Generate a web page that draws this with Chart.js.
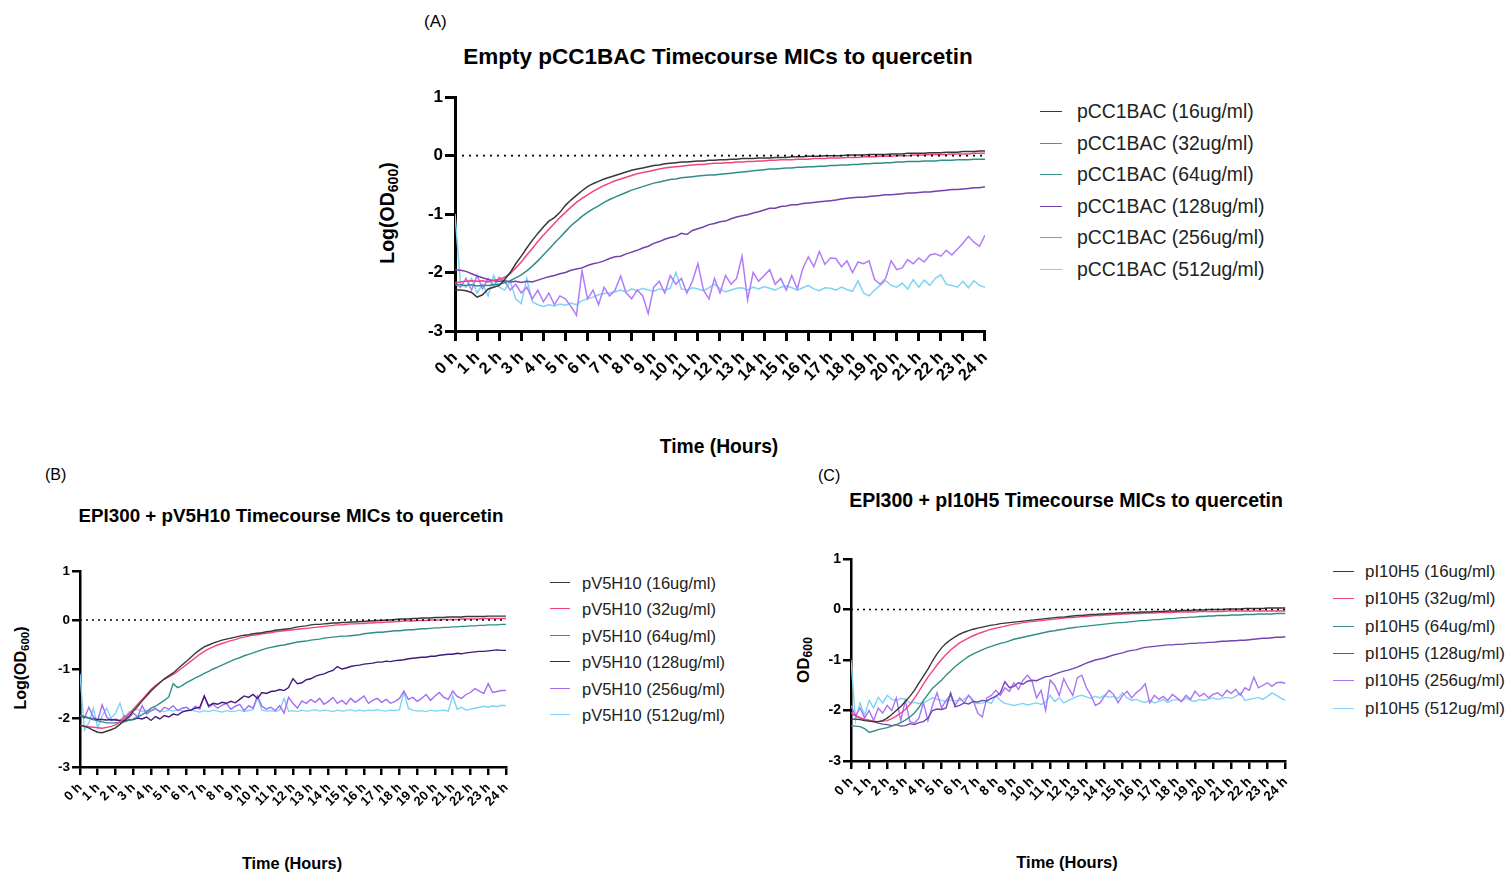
<!DOCTYPE html>
<html><head><meta charset="utf-8">
<script src="https://cdn.jsdelivr.net/npm/chart.js@4.4.1/dist/chart.umd.min.js"></script>
<style>
body{margin:0;width:1510px;height:873px;background:#fff;position:relative;overflow:hidden;font-family:"Liberation Sans",Arial,sans-serif;color:#000}
.t{position:absolute;white-space:nowrap;transform:translate(-50%,-50%);line-height:1}
.l{position:absolute;white-space:nowrap;transform:translateY(-50%);line-height:1}
.b{font-weight:bold}
.r{transform:translate(-50%,-50%) rotate(-90deg)}
sub{font-size:0.72em;vertical-align:-0.25em}
canvas{position:absolute}
.lgline{position:absolute;height:0;border-top-style:solid}
</style></head><body>

<div class="l" style="left:424px;top:21px;font-size:17px">(A)</div>
<div class="t b" style="left:718px;top:57px;font-size:22.5px">Empty pCC1BAC Timecourse MICs to quercetin</div>
<div class="t b r" style="left:389px;top:213px;font-size:19.5px">Log(OD<sub>600</sub>)</div>
<div class="t b" style="left:719px;top:447px;font-size:19.3px">Time (Hours)</div>

<div class="l" style="left:45px;top:475px;font-size:16px">(B)</div>
<div class="t b" style="left:291px;top:516px;font-size:18.8px">EPI300 + pV5H10 Timecourse MICs to quercetin</div>
<div class="t b r" style="left:22px;top:668px;font-size:16px">Log(OD<sub>600</sub>)</div>
<div class="t b" style="left:292px;top:863px;font-size:16.3px">Time (Hours)</div>

<div class="l" style="left:818px;top:476px;font-size:16px">(C)</div>
<div class="t b" style="left:1066px;top:501px;font-size:19.5px">EPI300 + pI10H5 Timecourse MICs to quercetin</div>
<div class="t b r" style="left:805px;top:660px;font-size:17px">OD<sub>600</sub></div>
<div class="t b" style="left:1067px;top:862px;font-size:16.5px">Time (Hours)</div>

<canvas id="cA"></canvas>
<canvas id="cB"></canvas>
<canvas id="cC"></canvas>
<div id="legends"></div>

<script>
// ---------- categories / tick labels ----------
const timeHours = Array.from({length: 97}, (_, i) => i / 4); // sampling every 15 min, 0 h .. 24 h
const hourLabels = ["0 h","1 h","2 h","3 h","4 h","5 h","6 h","7 h","8 h","9 h","10 h","11 h","12 h","13 h","14 h","15 h","16 h","17 h","18 h","19 h","20 h","21 h","22 h","23 h","24 h"];
const yTicks = [-3, -2, -1, 0, 1];

const legendA = ["pCC1BAC (16ug/ml)","pCC1BAC (32ug/ml)","pCC1BAC (64ug/ml)","pCC1BAC (128ug/ml)","pCC1BAC (256ug/ml)","pCC1BAC (512ug/ml)"];
const legendB = ["pV5H10 (16ug/ml)","pV5H10 (32ug/ml)","pV5H10 (64ug/ml)","pV5H10 (128ug/ml)","pV5H10 (256ug/ml)","pV5H10 (512ug/ml)"];
const legendC = ["pI10H5 (16ug/ml)","pI10H5 (32ug/ml)","pI10H5 (64ug/ml)","pI10H5 (128ug/ml)","pI10H5 (256ug/ml)","pI10H5 (512ug/ml)"];

// ---------- Panel A : Empty pCC1BAC ----------
const A_16 = [-2.30,-2.30,-2.31,-2.34, -2.42,-2.38,-2.28,-2.25, -2.22,-2.12,-2.00,-1.85, -1.72,-1.58,-1.45,-1.33, -1.22,-1.12,-1.06,-0.97, -0.85,-0.76,-0.68,-0.60, -0.53,-0.48,-0.44,-0.40, -0.37,-0.34,-0.31,-0.28, -0.25,-0.23,-0.21,-0.19, -0.17,-0.16,-0.14,-0.13, -0.12,-0.11,-0.11,-0.10, -0.09,-0.09,-0.08,-0.08, -0.07,-0.07,-0.06,-0.06, -0.05,-0.05,-0.05,-0.04, -0.04,-0.04,-0.03,-0.03, -0.03,-0.02,-0.02,-0.02, -0.01,-0.01,-0.01,0.00, 0.00,0.00,0.00,0.01, 0.01,0.01,0.01,0.02, 0.02,0.02,0.02,0.03, 0.03,0.03,0.04,0.04, 0.04,0.04,0.05,0.05, 0.05,0.06,0.06,0.06, 0.07,0.07,0.07,0.08, 0.08];
const A_32 = [-2.17,-2.16,-2.15,-2.14, -2.15,-2.14,-2.16,-2.13, -2.12,-2.08,-2.02,-1.92, -1.82,-1.70,-1.59,-1.47, -1.36,-1.26,-1.16,-1.06, -0.97,-0.88,-0.80,-0.73, -0.67,-0.61,-0.56,-0.51, -0.47,-0.43,-0.40,-0.37, -0.34,-0.31,-0.29,-0.27, -0.25,-0.23,-0.21,-0.20, -0.19,-0.18,-0.17,-0.16, -0.15,-0.15,-0.14,-0.13, -0.13,-0.12,-0.12,-0.11, -0.11,-0.10,-0.10,-0.09, -0.09,-0.08,-0.08,-0.07, -0.07,-0.07,-0.06,-0.06, -0.06,-0.05,-0.05,-0.05, -0.04,-0.04,-0.04,-0.03, -0.03,-0.03,-0.02,-0.02, -0.02,-0.01,-0.01,-0.01, 0.00,0.00,0.00,0.01, 0.01,0.01,0.02,0.02, 0.02,0.02,0.03,0.03, 0.03,0.03,0.04,0.04, 0.04];
const A_64 = [-2.20,-2.21,-2.22,-2.21, -2.23,-2.22,-2.22,-2.21, -2.20,-2.17,-2.14,-2.09, -2.04,-1.97,-1.89,-1.80, -1.70,-1.60,-1.50,-1.40, -1.30,-1.20,-1.12,-1.04, -0.97,-0.91,-0.86,-0.80, -0.75,-0.71,-0.67,-0.63, -0.59,-0.56,-0.53,-0.50, -0.47,-0.45,-0.43,-0.41, -0.40,-0.38,-0.37,-0.36, -0.35,-0.34,-0.33,-0.33, -0.32,-0.31,-0.30,-0.29, -0.28,-0.27,-0.26,-0.25, -0.24,-0.23,-0.23,-0.22, -0.21,-0.21,-0.20,-0.20, -0.19,-0.19,-0.18,-0.18, -0.17,-0.17,-0.16,-0.16, -0.15,-0.15,-0.14,-0.14, -0.13,-0.13,-0.12,-0.12, -0.11,-0.11,-0.10,-0.10, -0.10,-0.09,-0.09,-0.09, -0.08,-0.08,-0.08,-0.07, -0.07,-0.07,-0.06,-0.06, -0.06];
const A_128 = [-1.95,-1.96,-1.98,-2.02, -2.06,-2.09,-2.12,-2.14, -2.15,-2.14,-2.16,-2.15, -2.17,-2.15,-2.16,-2.13, -2.10,-2.07,-2.05,-2.02, -2.00,-1.96,-1.94,-1.92, -1.88,-1.85,-1.83,-1.80, -1.76,-1.73,-1.72,-1.68, -1.65,-1.62,-1.58,-1.55, -1.50,-1.47,-1.43,-1.40, -1.38,-1.33,-1.35,-1.28, -1.25,-1.22,-1.18,-1.16, -1.13,-1.12,-1.08,-1.05, -1.03,-1.01,-0.98,-0.96, -0.93,-0.90,-0.90,-0.87, -0.86,-0.84,-0.84,-0.82, -0.81,-0.80,-0.79,-0.78, -0.77,-0.76,-0.74,-0.73, -0.72,-0.71,-0.71,-0.70, -0.69,-0.68,-0.67,-0.67, -0.66,-0.65,-0.64,-0.64, -0.63,-0.62,-0.62,-0.61, -0.60,-0.59,-0.58,-0.58, -0.57,-0.56,-0.55,-0.55, -0.53];
const A_256 = [-2.20,-2.25,-2.10,-2.30, -2.05,-2.28,-2.10,-2.22, -2.08,-2.15,-2.30,-2.20, -2.35,-2.25,-2.45,-2.30, -2.50,-2.35,-2.55,-2.40, -2.45,-2.58,-2.73,-1.97, -2.45,-2.30,-2.55,-2.25, -2.40,-2.30,-2.06,-2.35, -2.45,-2.30,-2.40,-2.70, -2.25,-2.15,-2.35,-2.05, -2.20,-2.10,-2.35,-2.15, -1.85,-2.30,-2.45,-2.10, -2.35,-2.05,-2.20,-2.10, -1.72,-2.47,-2.00,-2.15, -2.05,-1.95,-2.20,-2.10, -2.30,-2.05,-2.28,-1.93, -1.73,-1.90,-1.64,-1.86, -1.75,-1.76,-1.90,-1.80, -2.00,-1.82,-1.85,-1.80, -2.12,-2.20,-2.10,-1.80, -1.95,-1.92,-1.78,-1.85, -1.75,-1.82,-1.70,-1.68, -1.72,-1.62,-1.70,-1.60, -1.50,-1.38,-1.48,-1.55, -1.36];
const A_512 = [-1.00,-2.20,-2.25,-2.10, -2.35,-2.20,-2.40,-2.05, -2.25,-2.30,-2.15,-2.45, -2.53,-2.10,-2.50,-2.55, -2.58,-2.55,-2.57,-2.54, -2.56,-2.52,-2.55,-2.48, -2.45,-2.42,-2.38,-2.36, -2.35,-2.33,-2.30,-2.33, -2.28,-2.31,-2.27,-2.30, -2.32,-2.28,-2.30,-2.27, -2.00,-2.28,-2.30,-2.26, -2.28,-2.31,-2.26,-2.20, -2.28,-2.33,-2.30,-2.27, -2.26,-2.30,-2.25,-2.28, -2.24,-2.27,-2.30,-2.25, -2.23,-2.26,-2.30,-2.26, -2.22,-2.28,-2.31,-2.26, -2.27,-2.30,-2.25,-2.29, -2.32,-2.14,-2.35,-2.40, -2.30,-2.22,-2.14,-2.22, -2.25,-2.18,-2.28,-2.12, -2.25,-2.13,-2.22,-2.10, -2.04,-2.20,-2.22,-2.25, -2.15,-2.26,-2.14,-2.22, -2.25];

// ---------- Panel B : EPI300 + pV5H10 ----------
const B_16 = [-2.15,-2.17,-2.20,-2.25, -2.29,-2.30,-2.27,-2.24, -2.20,-2.13,-2.05,-1.97, -1.86,-1.76,-1.65,-1.55, -1.45,-1.36,-1.28,-1.20, -1.14,-1.08,-1.00,-0.92, -0.84,-0.76,-0.68,-0.61, -0.55,-0.51,-0.47,-0.44, -0.41,-0.39,-0.37,-0.35, -0.33,-0.31,-0.30,-0.28, -0.27,-0.26,-0.24,-0.23, -0.21,-0.20,-0.19,-0.18, -0.16,-0.14,-0.13,-0.12, -0.10,-0.09,-0.09,-0.08, -0.07,-0.06,-0.06,-0.05, -0.05,-0.04,-0.04,-0.03, -0.03,-0.02,-0.02,-0.01, -0.01,0.00,0.00,0.01, 0.02,0.02,0.02,0.03, 0.03,0.04,0.04,0.04, 0.05,0.05,0.05,0.06, 0.06,0.06,0.06,0.07, 0.07,0.07,0.07,0.07, 0.08,0.08,0.08,0.08, 0.08];
const B_32 = [-2.15,-2.16,-2.18,-2.19, -2.20,-2.21,-2.19,-2.17, -2.14,-2.08,-2.01,-1.92, -1.82,-1.72,-1.62,-1.52, -1.42,-1.34,-1.27,-1.21, -1.16,-1.11,-1.05,-0.98, -0.91,-0.84,-0.77,-0.70, -0.64,-0.59,-0.55,-0.51, -0.48,-0.45,-0.42,-0.40, -0.37,-0.35,-0.33,-0.31, -0.30,-0.28,-0.27,-0.26, -0.24,-0.23,-0.22,-0.21, -0.20,-0.19,-0.18,-0.17, -0.16,-0.15,-0.14,-0.13, -0.12,-0.11,-0.10,-0.10, -0.09,-0.08,-0.08,-0.07, -0.07,-0.06,-0.06,-0.05, -0.05,-0.04,-0.04,-0.03, -0.03,-0.02,-0.02,-0.02, -0.01,-0.01,-0.01,0.00, 0.00,0.00,0.01,0.01, 0.01,0.01,0.02,0.02, 0.02,0.02,0.02,0.03, 0.03,0.03,0.03,0.03, 0.03];
const B_64 = [-1.95,-1.97,-2.00,-2.03, -2.06,-2.08,-2.10,-2.10, -2.10,-2.09,-2.08,-2.05, -2.02,-1.98,-1.93,-1.88, -1.80,-1.76,-1.70,-1.64, -1.57,-1.30,-1.38,-1.34, -1.28,-1.23,-1.18,-1.14, -1.09,-1.05,-1.00,-0.96, -0.92,-0.88,-0.84,-0.80, -0.77,-0.73,-0.70,-0.67, -0.64,-0.61,-0.58,-0.56, -0.54,-0.52,-0.51,-0.49, -0.47,-0.45,-0.44,-0.43, -0.41,-0.40,-0.39,-0.37, -0.36,-0.35,-0.34,-0.33, -0.33,-0.32,-0.31,-0.30, -0.28,-0.27,-0.26,-0.25, -0.25,-0.24,-0.23,-0.22, -0.22,-0.21,-0.20,-0.20, -0.19,-0.18,-0.18,-0.17, -0.16,-0.16,-0.15,-0.15, -0.14,-0.14,-0.13,-0.13, -0.12,-0.12,-0.11,-0.11, -0.10,-0.10,-0.10,-0.09, -0.09];
const B_128 = [-1.95,-1.98,-2.00,-2.02, -2.03,-2.03,-2.04,-2.03, -2.04,-2.05,-2.05,-2.04, -2.03,-2.00,-2.02,-1.98, -2.05,-1.97,-2.02,-1.95, -1.98,-1.92,-1.94,-1.88, -1.85,-1.84,-1.80,-1.78, -1.55,-1.75,-1.70,-1.72, -1.68,-1.70,-1.66,-1.69, -1.62,-1.55,-1.58,-1.52, -1.60,-1.48,-1.50,-1.46, -1.45,-1.42,-1.44,-1.38, -1.20,-1.30,-1.28,-1.22, -1.20,-1.15,-1.12,-1.10, -1.06,-1.03,-0.95,-1.00, -0.98,-0.95,-0.93,-0.92, -0.90,-0.89,-0.88,-0.86, -0.86,-0.84,-0.85,-0.83, -0.82,-0.81,-0.79,-0.78, -0.77,-0.76,-0.76,-0.74, -0.74,-0.72,-0.71,-0.70, -0.70,-0.68,-0.69,-0.67, -0.66,-0.65,-0.64,-0.64, -0.63,-0.62,-0.61,-0.62, -0.62];
const B_256 = [-1.95,-2.00,-1.78,-1.98, -2.05,-1.73,-1.98,-2.05, -2.02,-2.06,-1.95,-2.00, -1.90,-1.98,-1.75,-1.92, -1.85,-1.80,-1.88,-1.78, -1.82,-1.75,-1.85,-1.80, -1.78,-1.85,-1.76,-1.82, -1.55,-1.78,-1.72,-1.80, -1.74,-1.70,-1.82,-1.76, -1.72,-1.85,-1.75,-1.80, -1.55,-1.76,-1.82,-1.78, -1.85,-1.75,-1.90,-1.58, -1.70,-1.80,-1.65,-1.70, -1.62,-1.68,-1.60,-1.72, -1.66,-1.58,-1.70,-1.64, -1.72,-1.60,-1.68,-1.62, -1.55,-1.70,-1.64,-1.60, -1.68,-1.62,-1.70,-1.66, -1.60,-1.45,-1.62,-1.58, -1.66,-1.60,-1.52,-1.64, -1.55,-1.48,-1.58,-1.62, -1.45,-1.56,-1.60,-1.52, -1.48,-1.40,-1.45,-1.50, -1.30,-1.48,-1.46,-1.44, -1.44];
const B_512 = [-1.10,-2.25,-2.10,-1.80, -2.20,-1.95,-1.80,-2.00, -1.90,-1.70,-2.00,-1.88, -1.85,-1.82,-1.87,-1.84, -1.86,-1.83,-1.85,-1.87, -1.84,-1.86,-1.83,-1.85, -1.87,-1.84,-1.86,-1.88, -1.85,-1.87,-1.84,-1.86, -1.88,-1.85,-1.87,-1.86, -1.84,-1.87,-1.85,-1.83, -1.58,-1.84,-1.86,-1.85, -1.87,-1.84,-1.60,-1.86, -1.85,-1.87,-1.84,-1.86, -1.85,-1.83,-1.86,-1.84, -1.85,-1.87,-1.84,-1.86, -1.85,-1.83,-1.86,-1.84, -1.86,-1.84,-1.85,-1.83, -1.85,-1.86,-1.84,-1.85, -1.83,-1.47,-1.80,-1.84, -1.86,-1.85,-1.87,-1.84, -1.86,-1.85,-1.84,-1.86, -1.55,-1.82,-1.78,-1.84, -1.82,-1.80,-1.78,-1.76, -1.78,-1.75,-1.77,-1.74, -1.75];

// ---------- Panel C : EPI300 + pI10H5 ----------
const C_16 = [-2.17,-2.17,-2.18,-2.20, -2.21,-2.22,-2.22,-2.20, -2.15,-2.08,-2.00,-1.92, -1.82,-1.72,-1.60,-1.46, -1.32,-1.18,-1.02,-0.88, -0.76,-0.67,-0.60,-0.54, -0.49,-0.45,-0.42,-0.39, -0.37,-0.35,-0.33,-0.31, -0.30,-0.28,-0.27,-0.26, -0.25,-0.24,-0.23,-0.22, -0.21,-0.20,-0.19,-0.18, -0.17,-0.16,-0.15,-0.15, -0.14,-0.13,-0.12,-0.12, -0.11,-0.10,-0.10,-0.09, -0.09,-0.08,-0.08,-0.07, -0.07,-0.06,-0.06,-0.06, -0.05,-0.05,-0.05,-0.04, -0.04,-0.04,-0.03,-0.03, -0.03,-0.02,-0.02,-0.02, -0.01,-0.01,-0.01,0.00, 0.00,0.00,0.00,0.01, 0.01,0.01,0.01,0.02, 0.02,0.02,0.02,0.02, 0.03,0.03,0.03,0.03, 0.03];
const C_32 = [-2.05,-2.10,-2.14,-2.17, -2.19,-2.21,-2.22,-2.21, -2.20,-2.16,-2.11,-2.05, -1.98,-1.88,-1.76,-1.62, -1.48,-1.34,-1.22,-1.10, -0.99,-0.89,-0.80,-0.73, -0.66,-0.61,-0.56,-0.52, -0.48,-0.45,-0.42,-0.39, -0.37,-0.35,-0.33,-0.31, -0.29,-0.28,-0.26,-0.25, -0.24,-0.23,-0.22,-0.21, -0.20,-0.19,-0.18,-0.17, -0.16,-0.16,-0.15,-0.14, -0.14,-0.13,-0.12,-0.12, -0.11,-0.11,-0.10,-0.10, -0.09,-0.09,-0.08,-0.08, -0.08,-0.07,-0.07,-0.07, -0.06,-0.06,-0.06,-0.06, -0.05,-0.05,-0.05,-0.05, -0.05,-0.04,-0.04,-0.04, -0.04,-0.04,-0.04,-0.03, -0.03,-0.03,-0.03,-0.03, -0.03,-0.03,-0.03,-0.03, -0.03,-0.03,-0.03,-0.03, -0.03];
const C_64 = [-2.30,-2.31,-2.32,-2.36, -2.43,-2.41,-2.38,-2.36, -2.34,-2.31,-2.28,-2.24, -2.19,-2.13,-2.05,-1.94, -1.80,-1.68,-1.56,-1.48, -1.40,-1.30,-1.22,-1.13, -1.06,-0.99,-0.93,-0.88, -0.84,-0.80,-0.76,-0.73, -0.70,-0.67,-0.65,-0.62, -0.59,-0.57,-0.55,-0.53, -0.51,-0.49,-0.47,-0.45, -0.43,-0.42,-0.40,-0.39, -0.37,-0.36,-0.35,-0.34, -0.33,-0.32,-0.31,-0.30, -0.29,-0.28,-0.27,-0.26, -0.26,-0.25,-0.24,-0.23, -0.22,-0.22,-0.21,-0.20, -0.20,-0.19,-0.18,-0.18, -0.17,-0.16,-0.16,-0.15, -0.15,-0.14,-0.14,-0.13, -0.13,-0.12,-0.12,-0.12, -0.11,-0.11,-0.11,-0.10, -0.10,-0.10,-0.09,-0.09, -0.09,-0.09,-0.08,-0.08, -0.08];
const C_128 = [-2.05,-2.10,-2.15,-2.18, -2.20,-2.22,-2.25,-2.27, -2.28,-2.30,-2.28,-2.31, -2.30,-2.26,-2.28,-2.24, -2.22,-2.15,-2.00,-1.97, -1.98,-1.95,-1.65,-1.93, -1.90,-1.85,-1.87,-1.82, -1.83,-1.80,-1.81,-1.76, -1.72,-1.65,-1.43,-1.55, -1.52,-1.45,-1.48,-1.42, -1.40,-1.41,-1.37,-1.33, -1.32,-1.28,-1.25,-1.22, -1.20,-1.17,-1.14,-1.10, -1.06,-1.03,-1.00,-0.98, -0.96,-0.93,-0.90,-0.88, -0.86,-0.83,-0.81,-0.80, -0.77,-0.75,-0.74,-0.73, -0.72,-0.71,-0.70,-0.70, -0.69,-0.69,-0.68,-0.67, -0.67,-0.66,-0.66,-0.65, -0.65,-0.64,-0.63,-0.63, -0.62,-0.62,-0.61,-0.61, -0.60,-0.59,-0.58,-0.57, -0.57,-0.56,-0.55,-0.55, -0.54];
const C_256 = [-1.90,-2.10,-1.95,-2.15, -2.00,-2.20,-1.95,-2.05, -1.90,-2.00,-1.75,-2.20, -1.80,-2.22,-2.25,-2.15, -1.85,-2.20,-1.90,-1.65, -1.95,-1.80,-1.70,-1.90, -1.75,-1.85,-1.70,-1.80, -2.05,-2.13,-1.75,-1.70, -1.60,-1.70,-1.55,-1.62, -1.45,-1.58,-1.40,-1.30, -1.42,-1.75,-1.60,-2.00, -1.40,-1.50,-1.70,-1.37, -1.55,-1.70,-1.35,-1.30, -1.55,-1.70,-1.90,-1.85, -1.72,-1.60,-1.68,-1.85, -1.70,-1.62,-1.75,-1.65, -1.58,-1.47,-1.85,-1.70, -1.78,-1.72,-1.80,-1.68, -1.75,-1.82,-1.70,-1.78, -1.62,-1.72,-1.66,-1.75, -1.68,-1.65,-1.72,-1.60, -1.66,-1.58,-1.70,-1.55, -1.60,-1.34,-1.55,-1.50, -1.45,-1.52,-1.45,-1.44, -1.46];
const C_512 = [-1.00,-2.20,-1.85,-2.10, -1.80,-1.95,-1.74,-1.85, -1.70,-1.78,-1.80,-1.76, -1.78,-1.85,-1.84,-1.86, -1.85,-1.80,-1.75,-1.78, -1.80,-1.82,-1.79,-1.81, -1.80,-1.78,-1.70,-1.84, -1.86,-1.85,-1.83,-1.86, -1.70,-1.80,-1.86,-1.88, -1.90,-1.88,-1.86,-1.89, -1.87,-1.85,-1.88,-1.84, -1.70,-1.82,-1.75,-1.85, -1.80,-1.76,-1.72,-1.70, -1.73,-1.76,-1.72,-1.75, -1.70,-1.74,-1.72,-1.76, -1.65,-1.75,-1.80,-1.78, -1.82,-1.84,-1.80,-1.85, -1.82,-1.78,-1.84,-1.80, -1.78,-1.82,-1.75,-1.80, -1.82,-1.78,-1.80,-1.77, -1.75,-1.78,-1.76,-1.74, -1.76,-1.72,-1.65,-1.80, -1.78,-1.76,-1.74,-1.78, -1.72,-1.65,-1.70,-1.76, -1.80];

// ---------- colours ----------
const coloursA = ["#383838","#f2457c","#2f8f88","#7440ad","#b27cf8","#7fd3f5"];
const coloursB = ["#383838","#f2457c","#2f8f88","#40197a","#a46cf2","#7fd3f5"];
const coloursC = ["#383838","#f2457c","#2f8f88","#7445b2","#ab74f6","#7fd3f5"];

function makeChart(id, box, series, colours, st) {
  const cv = document.getElementById(id);
  cv.width = box.w; cv.height = box.h;
  cv.style.left = box.x + 'px'; cv.style.top = box.y + 'px';
  cv.style.width = box.w + 'px'; cv.style.height = box.h + 'px';
  const datasets = [{
    data: [{x: 0, y: 0}, {x: 24, y: 0}],
    borderColor: '#000', borderWidth: st.dotW, borderDash: st.dash, pointRadius: 0
  }];
  series.forEach((vals, k) => datasets.push({
    data: vals.map((y, i) => ({x: timeHours[i], y: y})),
    borderColor: colours[k], borderWidth: st.lw, pointRadius: 0, tension: 0
  }));
  const gridCfg = {drawOnChartArea: false, drawTicks: true, tickLength: st.tickLen, lineWidth: st.axisW, color: '#000'};
  new Chart(cv, {
    type: 'line',
    data: {datasets},
    options: {
      responsive: false, animation: false, maintainAspectRatio: false,
      layout: {padding: st.pad},
      plugins: {legend: {display: false}, tooltip: {enabled: false}},
      scales: {
        x: {
          type: 'linear', min: 0, max: 24,
          afterFit(s) { s.height = st.xH; },
          grid: gridCfg,
          border: {display: true, color: '#000', width: st.axisW},
          ticks: {
            stepSize: 1, autoSkip: false, maxRotation: 45, minRotation: 45, padding: st.xPad,
            color: '#000', font: {family: 'Liberation Sans', size: st.xFont, weight: 'bold'},
            callback: v => hourLabels[v]
          }
        },
        y: {
          type: 'linear', min: yTicks[0], max: yTicks[yTicks.length - 1],
          afterFit(s) { s.width = st.yW; },
          grid: gridCfg,
          border: {display: true, color: '#000', width: st.axisW},
          ticks: {
            stepSize: 1, padding: st.yPad, color: '#000',
            font: {family: 'Liberation Sans', size: st.yFont, weight: 'bold'}
          }
        }
      }
    }
  });
}

// chart area A: 455..985 x 97..331
makeChart('cA', {x: 400, y: 85, w: 606, h: 306}, [A_16, A_32, A_64, A_128, A_256, A_512], coloursA,
  {pad: {left: 10, right: 15, top: 12, bottom: 5}, yW: 45, xH: 55, lw: 1.5, axisW: 3, tickLen: 10,
   xPad: 7, yPad: 2, xFont: 16.5, yFont: 17, dotW: 1.6, dash: [2, 5]});
// chart area B: 80..506 x 571..767
makeChart('cB', {x: 37, y: 559, w: 485, h: 258}, [B_16, B_32, B_64, B_128, B_256, B_512], coloursB,
  {pad: {left: 8, right: 12, top: 12, bottom: 5}, yW: 35, xH: 45, lw: 1.4, axisW: 2.5, tickLen: 8,
   xPad: 5, yPad: 2, xFont: 13, yFont: 13.5, dotW: 1.4, dash: [2, 4]});
// chart area C: 851..1285 x 559..761
makeChart('cC', {x: 808, y: 547, w: 494, h: 264}, [C_16, C_32, C_64, C_128, C_256, C_512], coloursC,
  {pad: {left: 8, right: 12, top: 12, bottom: 5}, yW: 35, xH: 45, lw: 1.4, axisW: 2.5, tickLen: 8,
   xPad: 5, yPad: 2, xFont: 13.5, yFont: 14, dotW: 1.4, dash: [2, 4]});

// ---------- legends ----------
function makeLegend(labels, colours, g) {
  const host = document.getElementById('legends');
  labels.forEach((txt, k) => {
    const cy = g.y0 + k * g.step;
    const ln = document.createElement('div');
    ln.className = 'lgline';
    ln.style.left = g.lx + 'px'; ln.style.width = g.lw + 'px';
    ln.style.top = (cy - 1) + 'px';
    ln.style.borderTopWidth = '1.5px';
    ln.style.borderTopColor = colours[k];
    host.appendChild(ln);
    const t = document.createElement('div');
    t.className = 'l';
    t.style.left = g.tx + 'px'; t.style.top = cy + 'px';
    t.style.fontSize = g.fs + 'px'; t.style.color = '#222';
    t.textContent = txt;
    host.appendChild(t);
  });
}
makeLegend(legendA, coloursA, {y0: 112, step: 31.5, lx: 1040, lw: 22, tx: 1077, fs: 19.4});
makeLegend(legendB, coloursB, {y0: 583, step: 26.4, lx: 550, lw: 20, tx: 582, fs: 16.5});
makeLegend(legendC, coloursC, {y0: 572, step: 27.3, lx: 1333, lw: 21, tx: 1365, fs: 16.9});
</script>
</body></html>
